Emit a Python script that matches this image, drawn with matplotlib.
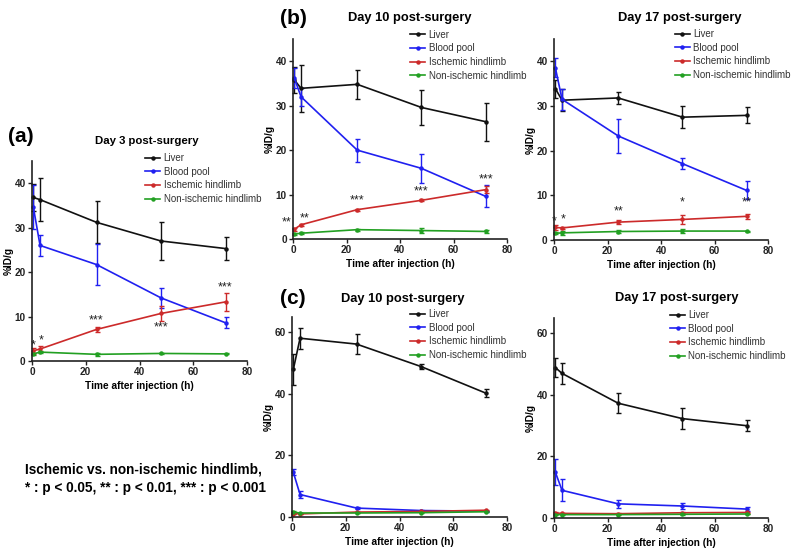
import matplotlib
matplotlib.use('Agg')
import matplotlib.pyplot as plt
from matplotlib.lines import Line2D

plt.rcParams['font.family'] = ['Liberation Sans', 'DejaVu Sans']

# ---------------- data ----------------
times = [0.5, 3, 24, 48, 72]
series_names = ['Liver', 'Blood pool', 'Ischemic hindlimb', 'Non-ischemic hindlimb']
colors = ['#111111', '#2020f0', '#cc2a2a', '#22a022']

# (a) Day 3 post-surgery
a_liver = [36.8, 36.3, 31.2, 27.0, 25.3]
a_liver_err = [3.0, 4.8, 4.7, 4.2, 2.6]
a_blood = [34.6, 26.0, 21.7, 14.2, 8.6]
a_blood_err = [4.9, 2.4, 4.7, 2.2, 1.2]
a_isch = [2.3, 2.7, 7.1, 10.7, 13.3]
a_isch_err = [0.7, 0.6, 0.5, 1.6, 2.0]
a_non = [1.6, 2.0, 1.5, 1.7, 1.6]
a_non_err = [0.2, 0.2, 0.3, 0.1, 0.1]
a_stars = ['*', '*', '***', '***', '***']
a_star_y = [3.5, 4.6, 9.1, 7.5, 16.6]

# (b) Day 10 post-surgery
b10_liver = [35.8, 33.9, 34.8, 29.6, 26.4]
b10_liver_err = [3.0, 5.3, 3.2, 4.0, 4.3]
b10_blood = [36.2, 32.0, 20.0, 15.9, 9.6]
b10_blood_err = [2.2, 2.0, 2.6, 3.3, 2.5]
b10_isch = [2.2, 3.2, 6.6, 8.7, 11.1]
b10_isch_err = [0.3, 0.2, 0.2, 0.2, 0.8]
b10_non = [1.1, 1.3, 2.1, 1.9, 1.7]
b10_non_err = [0.2, 0.2, 0.2, 0.6, 0.4]
b10_stars = ['**', '**', '***', '***', '***']
b10_star_y = [3.7, 4.7, 8.7, 10.7, 13.3]

# (b) Day 17 post-surgery
b17_liver = [33.9, 31.3, 31.8, 27.5, 27.9]
b17_liver_err = [2.0, 2.4, 1.3, 2.4, 1.8]
b17_blood = [38.6, 31.5, 23.3, 17.1, 11.1]
b17_blood_err = [2.2, 2.4, 3.9, 1.2, 2.0]
b17_isch = [2.8, 2.7, 4.0, 4.6, 5.3]
b17_isch_err = [0.5, 0.3, 0.5, 1.0, 0.6]
b17_non = [1.5, 1.6, 1.9, 2.0, 2.0]
b17_non_err = [0.2, 0.4, 0.4, 0.4, 0.1]
b17_stars = ['*', '*', '**', '*', '**']
b17_star_y = [4.1, 4.7, 6.3, 8.3, 8.3]

# (c) Day 10 post-surgery
c10_liver = [48.0, 58.1, 56.2, 48.9, 40.3]
c10_liver_err = [5.0, 3.4, 3.2, 0.9, 1.3]
c10_blood = [14.5, 7.3, 2.9, 2.1, 1.9]
c10_blood_err = [1.0, 1.2, 0.4, 0.2, 0.2]
c10_isch = [1.1, 1.0, 1.6, 1.8, 2.2]
c10_isch_err = [0.2, 0.1, 0.1, 0.1, 0.2]
c10_non = [1.6, 1.3, 1.3, 1.4, 1.7]
c10_non_err = [0.5, 0.1, 0.1, 0.1, 0.2]

# (c) Day 17 post-surgery
c17_liver = [48.9, 47.0, 37.3, 32.3, 30.0]
c17_liver_err = [3.0, 3.4, 3.2, 3.4, 1.7]
c17_blood = [14.9, 9.0, 4.6, 3.9, 2.9]
c17_blood_err = [4.2, 3.6, 1.4, 1.0, 0.6]
c17_isch = [1.6, 1.5, 1.4, 1.7, 1.8]
c17_isch_err = [0.2, 0.2, 0.1, 0.1, 0.1]
c17_non = [1.1, 1.1, 1.1, 1.2, 1.3]
c17_non_err = [0.1, 0.1, 0.1, 0.1, 0.1]

xticks = [0, 20, 40, 60, 80]

# ---------------- figure ----------------
W, H = 800, 552
fig = plt.figure(figsize=(W / 100, H / 100), dpi=100)


def rect(x0, x1, y0, ytop):
    return [x0 / W, 1 - y0 / H, (x1 - x0) / W, (y0 - ytop) / H]


def px(x, y):
    return x / W, 1 - y / H


def panel(r, vals, errs, ylim, yticks, title, title_xy, title_fs, leg_anchor,
          stars=None, star_y=None, star_dx=None):
    ax = fig.add_axes(r)
    for v, e, c in zip(vals, errs, colors):
        ax.errorbar(times, v, yerr=e, color=c, lw=1.2, marker='o', ms=2.2,
                    capsize=1.8, elinewidth=1.0, capthick=1.0, clip_on=False)
    ax.set_xlim(0, 80)
    ax.set_ylim(*ylim)
    ax.set_xticks(xticks)
    ax.set_yticks(yticks)
    for s in ['top', 'right']:
        ax.spines[s].set_visible(False)
    for s in ['left', 'bottom']:
        ax.spines[s].set_linewidth(1.2)
        ax.spines[s].set_color('#222222')
    ax.tick_params(direction='out', length=3, width=1.0, labelsize=7.2,
                   pad=1.5, colors='#222222')
    for lab in ax.get_xticklabels() + ax.get_yticklabels():
        lab.set_fontweight('bold')
    ax.set_xlabel('Time after injection (h)', fontsize=7.3, fontweight='bold',
                  labelpad=3)
    ax.set_ylabel('%ID/g', fontsize=7.3, fontweight='bold', labelpad=0.5)
    handles = [Line2D([], [], color=c, lw=1.2, marker='o', ms=2.2) for c in colors]
    ax.legend(handles, series_names, loc='upper left', bbox_to_anchor=leg_anchor,
              frameon=False, fontsize=7, handlelength=1.55, handletextpad=0.35,
              labelspacing=0.38, borderpad=0, borderaxespad=0)
    for lt in ax.get_legend().get_texts():
        lt.set_color('#333333')
    fig.text(*px(*title_xy), title, fontsize=title_fs, fontweight='bold',
             ha='center', va='center')
    if stars:
        dxs = star_dx if star_dx else [0] * len(stars)
        for t, s, y, dx in zip(times, stars, star_y, dxs):
            ax.annotate(s, (t, y), xytext=(dx, 0), textcoords='offset points',
                        ha='center', va='center', fontsize=9, color='#222222',
                        annotation_clip=False)
    return ax


panel(rect(32, 247, 361, 161),
      [a_liver, a_blood, a_isch, a_non],
      [a_liver_err, a_blood_err, a_isch_err, a_non_err],
      (0, 45), [0, 10, 20, 30, 40], 'Day 3 post-surgery', (147, 141), 8.2,
      (0.526, 1.04), a_stars, a_star_y, [0, 1, 0, 0, 0])

panel(rect(293, 507, 239, 39),
      [b10_liver, b10_blood, b10_isch, b10_non],
      [b10_liver_err, b10_blood_err, b10_isch_err, b10_non_err],
      (0, 45), [0, 10, 20, 30, 40], 'Day 10 post-surgery', (410, 18), 9.3,
      (0.547, 1.047), b10_stars, b10_star_y, [-5.5, 2.5, 0, 0, 0])

panel(rect(554, 768, 240, 39),
      [b17_liver, b17_blood, b17_isch, b17_non],
      [b17_liver_err, b17_blood_err, b17_isch_err, b17_non_err],
      (0, 45), [0, 10, 20, 30, 40], 'Day 17 post-surgery', (680, 18), 9.3,
      (0.565, 1.05), b17_stars, b17_star_y, [-1, 1, 0, 0, 0])

panel(rect(292, 507, 517, 317),
      [c10_liver, c10_blood, c10_isch, c10_non],
      [c10_liver_err, c10_blood_err, c10_isch_err, c10_non_err],
      (0, 65), [0, 20, 40, 60], 'Day 10 post-surgery', (403, 299), 9.3,
      (0.549, 1.04))

panel(rect(554, 768, 518, 318),
      [c17_liver, c17_blood, c17_isch, c17_non],
      [c17_liver_err, c17_blood_err, c17_isch_err, c17_non_err],
      (0, 65), [0, 20, 40, 60], 'Day 17 post-surgery', (677, 298), 9.3,
      (0.542, 1.04))

fig.text(*px(8, 137), '(a)', fontsize=15, fontweight='bold', va='center', ha='left')
fig.text(*px(280, 18), '(b)', fontsize=15, fontweight='bold', va='center', ha='left')
fig.text(*px(280, 298), '(c)', fontsize=15, fontweight='bold', va='center', ha='left')

fig.text(*px(25, 470), 'Ischemic vs. non-ischemic hindlimb,', fontsize=9.8,
         fontweight='bold', va='center', ha='left')
fig.text(*px(25, 488), '* : p < 0.05, ** : p < 0.01, *** : p < 0.001', fontsize=9.8,
         fontweight='bold', va='center', ha='left')

fig.savefig('out.png', dpi=100)
